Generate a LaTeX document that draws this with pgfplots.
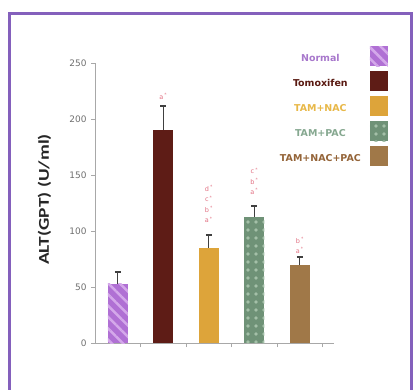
\documentclass[border=0pt]{standalone}
\usepackage{pgfplots}
\pgfplotsset{compat=1.18}
\usepackage{fontspec}
\setmainfont{DejaVu Sans}
\newfontfamily\carlito{Carlito}
\usetikzlibrary{patterns.meta}

\definecolor{framec}{HTML}{8460BC}
\definecolor{axgray}{HTML}{A8A8A8}
\definecolor{ticktext}{HTML}{707070}
\definecolor{sigred}{HTML}{E27082}
\definecolor{cNormal}{HTML}{B070D4}
\definecolor{cNormalL}{HTML}{D4A8EA}
\definecolor{cTam}{HTML}{5E1C16}
\definecolor{cNac}{HTML}{DDA43A}
\definecolor{cNacL}{HTML}{F0D060}
\definecolor{cPac}{HTML}{6F9277}
\definecolor{cPacL}{HTML}{A4C0A8}
\definecolor{cAll}{HTML}{A07848}
\definecolor{tNormal}{HTML}{A878CC}
\definecolor{tTam}{HTML}{5A1A12}
\definecolor{tNac}{HTML}{E8B848}
\definecolor{tPac}{HTML}{86A890}
\definecolor{tAll}{HTML}{946438}

\begin{document}
\begin{tikzpicture}[x=1bp,y=1bp]
\useasboundingbox (0,0) rectangle (414,390);
\fill[white] (0,0) rectangle (414,390);
% purple panel frame
\draw[framec, line width=3bp] (9.5,-20) -- (9.5,376.5) -- (411.5,376.5) -- (411.5,-20);

\begin{axis}[
  at={(95bp,47bp)}, anchor=south west,
  scale only axis, width=239bp, height=280bp,
  xmin=-0.5, xmax=4.75, ymin=0, ymax=250,
  axis x line*=bottom, axis y line*=left,
  axis line style={draw=axgray, line width=0.8bp, -},
  ytick={0,50,...,250},
  xtick={0.5,1.5,2.5,3.5,4.5}, xticklabels={},
  tick style={axgray, line width=0.6bp},
  tick align=outside, major tick length=4bp,
  yticklabel style={font=\fontsize{9}{10}\selectfont, text=ticktext, xshift=-1bp},
  /pgf/number format/assume math mode=true,
  ylabel={\scalebox{1.3}[1]{ALT(GPT) (U/ml)}},
  ylabel style={at={(rel axis cs:-0.211,0.5125)}, anchor=center,
    font=\carlito\bfseries\fontsize{15}{17}\selectfont, text=black!85},
  bar width=20bp,
  legend plot pos=right,
  legend cell align=center,
  legend style={at={(rel axis cs:1.226,1.061)}, anchor=north east,
    draw=none, fill=none, inner sep=0pt, row sep=5bp, column sep=9bp,
    nodes={inner sep=0pt},
    font=\bfseries\fontsize{9.5}{11}\selectfont},
  legend image code/.code={\path[#1] (0bp,-7bp) rectangle (18bp,13bp);},
  error bars/y dir=plus, error bars/y explicit,
  error bars/error bar style={line width=1.1bp, black!75},
  error bars/error mark options={rotate=90, mark size=3bp, line width=2bp, black!75},
]
\addplot[ybar, bar shift=0pt, fill=cNormal, draw=none,
  postaction={pattern={Lines[angle=-45,distance=8bp,line width=2.5bp]}, pattern color=cNormalL}]
  coordinates {(0,53) +- (0,10.5)};
\addlegendentry{\textcolor{tNormal}{Normal}}
\addplot[ybar, bar shift=0pt, fill=cTam, draw=none]
  coordinates {(1,190) +- (0,22)};
\addlegendentry{\textcolor{tTam}{Tomoxifen}}
\addplot[ybar, bar shift=0pt, fill=cNac, draw=none]
  coordinates {(2,85) +- (0,11)};
\addlegendentry{\textcolor{tNac}{TAM+NAC}}
\addplot[ybar, bar shift=0pt, fill=cPac, draw=none,
  postaction={pattern={Dots[distance=8bp,radius=1.8bp]}, pattern color=cPacL}]
  coordinates {(3,112.5) +- (0,9.5)};
\addlegendentry{\textcolor{tPac}{TAM+PAC}}
\addplot[ybar, bar shift=0pt, fill=cAll, draw=none]
  coordinates {(4,69.5) +- (0,7)};
\addlegendentry{\textcolor{tAll}{TAM+NAC+PAC}}

% significance letters
\tikzset{sig/.style={font=\fontsize{6.5}{7}\selectfont, text=sigred, inner sep=0pt}}
\node[sig] at (axis cs:1,220) {a\,\textsuperscript{*}};
\node[sig] at (axis cs:2,138) {d\,\textsuperscript{*}};
\node[sig] at (axis cs:2,128.7) {c\,\textsuperscript{*}};
\node[sig] at (axis cs:2,119.4) {b\,\textsuperscript{*}};
\node[sig] at (axis cs:2,110) {a\,\textsuperscript{*}};
\node[sig] at (axis cs:3,153.5) {c\,\textsuperscript{*}};
\node[sig] at (axis cs:3,144.5) {b\,\textsuperscript{*}};
\node[sig] at (axis cs:3,135.5) {a\,\textsuperscript{*}};
\node[sig] at (axis cs:4,91.5) {b\,\textsuperscript{*}};
\node[sig] at (axis cs:4,82.5) {a\,\textsuperscript{*}};
\end{axis}
\end{tikzpicture}
\end{document}
